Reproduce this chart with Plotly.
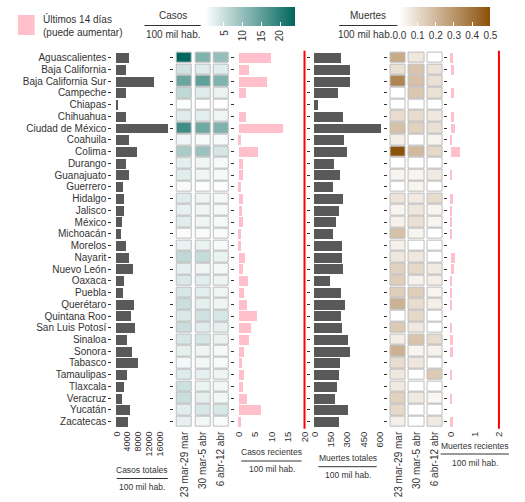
import plotly.graph_objects as go

W, H = 525, 502

states = ["Aguascalientes", "Baja California", "Baja California Sur", "Campeche", "Chiapas",
          "Chihuahua", "Ciudad de México", "Coahuila", "Colima", "Durango", "Guanajuato",
          "Guerrero", "Hidalgo", "Jalisco", "México", "Michoacán", "Morelos", "Nayarit",
          "Nuevo León", "Oaxaca", "Puebla", "Querétaro", "Quintana Roo", "San Luis Potosí",
          "Sinaloa", "Sonora", "Tabasco", "Tamaulipas", "Tlaxcala", "Veracruz", "Yucatán",
          "Zacatecas"]

weeks = ["23 mar-29 mar", "30 mar-5 abr", "6 abr-12 abr"]

casos_totales = [4700, 3600, 13800, 3600, 360, 3600, 18900, 4700, 7600, 3600, 4700, 2500,
                 2900, 2900, 2200, 1800, 3600, 4700, 6200, 2900, 2500, 6500, 5500, 6900,
                 4000, 5800, 8000, 4000, 2900, 2200, 5100, 4400]

casos_sem1 = [24, 4.3, 14, 6, 0.3, 3, 18, 1.4, 8, 2.6, 2.8, 0.6, 3, 2.3, 2.8, 0.5, 2, 6,
              2.5, 3.5, 3.8, 5, 3.5, 5, 4, 2.5, 1.2, 3.2, 4.8, 5, 2.8, 2.3]
casos_sem2 = [12, 3.2, 15, 3, 0, 2.6, 13.5, 0.8, 9.5, 1.4, 1.4, 0.3, 1.6, 1.6, 1.5, 0.6, 2,
              5.5, 1.5, 2.7, 2.7, 2.5, 4.5, 3, 4, 1.5, 1.2, 2.3, 1.8, 2.5, 3.8, 1.2]
casos_sem3 = [10, 2.7, 12, 2, 0, 1.5, 12, 0.8, 4, 0.8, 0.9, 0.3, 0.9, 0.9, 0.9, 0.7, 0.8, 2,
              1, 1.5, 1.5, 1.5, 4, 2.3, 2, 0.9, 0.7, 1.5, 1.2, 1.3, 3.8, 0.5]

casos_recientes = [9.85, 3, 8.7, 2.1, 0, 2.1, 13.4, 0.6, 5.7, 1.2, 1.2, 0.6, 1.2, 0.9, 1.2,
                   0.6, 0.6, 1.8, 1.2, 2.7, 1.5, 2.4, 5.4, 3.6, 3.0, 1.5, 0.9, 1.5, 1.2, 2.4,
                   6.6, 0.6]

muertes_totales = [243, 324, 324, 216, 36, 261, 613, 270, 297, 180, 234, 171, 261, 225, 198,
                   171, 252, 252, 261, 144, 243, 279, 243, 252, 306, 324, 234, 225, 207, 189,
                   306, 225]

muertes_sem1 = [0.24, 0.09, 0.35, 0, 0, 0.1, 0.18, 0.05, 0.5, 0, 0.03, 0, 0.08, 0.03, 0.04,
                0.18, 0.04, 0.07, 0.13, 0.14, 0.14, 0.22, 0, 0.15, 0.05, 0.22, 0.1, 0.065,
                0.06, 0.13, 0.11, 0.045]
muertes_sem2 = [0.065, 0.17, 0.18, 0.16, 0, 0.1, 0.13, 0, 0.2, 0, 0.03, 0.03, 0.06, 0.07,
                0.09, 0.03, 0, 0.065, 0.11, 0.04, 0.14, 0.1, 0.11, 0.065, 0.17, 0.03, 0.07,
                0, 0, 0.06, 0, 0]
muertes_sem3 = [0, 0.08, 0.09, 0.087, 0, 0.065, 0.09, 0.035, 0.11, 0, 0.06, 0, 0.1, 0.03,
                0.03, 0, 0, 0, 0.06, 0.05, 0.03, 0.045, 0, 0, 0.1, 0.04, 0, 0.15, 0, 0.025,
                0, 0.06]

muertes_recientes = [0.08, 0.12, 0, 0.12, 0, 0.12, 0.16, 0.04, 0.37, 0, 0.04, 0, 0.08, 0.04,
                     0.04, 0.04, 0, 0.16, 0.12, 0.04, 0.04, 0.04, 0, 0.04, 0.08, 0.08, 0,
                     0.04, 0, 0.04, 0, 0.08]

casos_limite = 20
muertes_limite = 2

ticks_casos_totales = [0, 4000, 8000, 12000, 16000]
ticks_casos_recientes = [0, 5, 10, 15, 20]
ticks_muertes_totales = [0, 150, 300, 450, 600]
ticks_muertes_recientes = [0, 1, 2]
ticks_cb_casos = [5, 10, 15, 20]
ticks_cb_muertes = [0, 0.1, 0.2, 0.3, 0.4, 0.5]
escala_casos = [0, 24]
escala_muertes = [0, 0.5]

# ---------------------------------------------------------------- styling
DARK = "#595959"
PINK = "#FFC0CB"
TEXT = "#333333"
FONT = "Liberation Sans, Arial, sans-serif"
cs_casos = [[0, "#FFFFFF"], [1, "#01665E"]]
cs_muertes = [[0, "#FFFFFF"], [1, "#8C510A"]]

# colour-bar geometry (pixels)
CB_CASOS = (205, 295)
CB_MUERTES = (401.7, 492.3)
CB_TOP, CB_BOTTOM = 7.3, 26


def px(p):
    return p / W


def py(p):
    return 1 - p / H


ydom = [py(428.75), py(50.65)]
n = len(states)
yrange = [n - 0.4, -0.6]

fig = go.Figure()

# panel 1: casos totales
fig.add_trace(go.Bar(x=casos_totales, y=states, orientation="h", width=0.85,
                     marker=dict(color=DARK, line=dict(width=0)), xaxis="x", yaxis="y"))

# panel 2: heatmap casos (as bordered cells)
cell_w = 0.83
for i, vals in enumerate([casos_sem1, casos_sem2, casos_sem3]):
    fig.add_trace(go.Bar(
        x=[cell_w] * n, base=[(i + 1) - cell_w / 2] * n, y=states, orientation="h", width=0.9,
        marker=dict(color=vals, colorscale=cs_casos, cmin=escala_casos[0], cmax=escala_casos[1],
                    line=dict(color="#BDBDBD", width=1), showscale=(i == 0),
                    colorbar=dict(orientation="h", x=px(sum(CB_CASOS) / 2), xanchor="center",
                                  y=py(CB_TOP), yanchor="top",
                                  len=CB_CASOS[1] - CB_CASOS[0], lenmode="pixels",
                                  thickness=CB_BOTTOM - CB_TOP, thicknessmode="pixels",
                                  outlinewidth=0, ticks="inside", ticklen=4,
                                  tickcolor="white", tickvals=ticks_cb_casos,
                                  showticklabels=False,
                                  tickfont=dict(size=1, color="rgba(0,0,0,0)"),
                                  xpad=0, ypad=0)),
        xaxis="x2", yaxis="y2"))

# panel 3: casos recientes
fig.add_trace(go.Bar(x=casos_recientes, y=states, orientation="h", width=0.85,
                     marker=dict(color=PINK, line=dict(width=0)), xaxis="x3", yaxis="y3"))

# panel 4: muertes totales
fig.add_trace(go.Bar(x=muertes_totales, y=states, orientation="h", width=0.85,
                     marker=dict(color=DARK, line=dict(width=0)), xaxis="x4", yaxis="y4"))

# panel 5: heatmap muertes
for i, vals in enumerate([muertes_sem1, muertes_sem2, muertes_sem3]):
    fig.add_trace(go.Bar(
        x=[cell_w] * n, base=[(i + 1) - cell_w / 2] * n, y=states, orientation="h", width=0.9,
        marker=dict(color=vals, colorscale=cs_muertes, cmin=escala_muertes[0],
                    cmax=escala_muertes[1],
                    line=dict(color="#BDBDBD", width=1), showscale=(i == 0),
                    colorbar=dict(orientation="h", x=px(sum(CB_MUERTES) / 2), xanchor="center",
                                  y=py(CB_TOP), yanchor="top",
                                  len=CB_MUERTES[1] - CB_MUERTES[0], lenmode="pixels",
                                  thickness=CB_BOTTOM - CB_TOP, thicknessmode="pixels",
                                  outlinewidth=0, ticks="inside", ticklen=4,
                                  tickcolor="white", tickvals=ticks_cb_muertes,
                                  tickformat=".1f", tickangle=0,
                                  tickfont=dict(size=10, color=TEXT), xpad=0, ypad=0)),
        xaxis="x5", yaxis="y5"))

# panel 6: muertes recientes
fig.add_trace(go.Bar(x=muertes_recientes, y=states, orientation="h", width=0.85,
                     marker=dict(color=PINK, line=dict(width=0)), xaxis="x6", yaxis="y6"))

# ---------------------------------------------------------------- axes
panels = {
    # name: (left px, right px, range, tickvals, ticktext, fontsize)
    1: (110.5, 168.5, [-1636, 19455], ticks_casos_totales, None, 9),
    2: (172.7, 231.6, [0.4, 3.6], [1, 2, 3], weeks, 10),
    3: (234.5, 308.0, [-1.14, 20.9], ticks_casos_recientes, None, 9.5),
    4: (311.7, 386.0, [-30, 640], ticks_muertes_totales, None, 9.5),
    5: (389.0, 447.7, [0.4, 3.6], [1, 2, 3], weeks, 10),
    6: (450.3, 504.1, [-0.11, 2.1], ticks_muertes_recientes, None, 9.5),
}

layout_axes = {}
for k, (l, r, rng, tv, tt, fs) in panels.items():
    xname = "xaxis" if k == 1 else f"xaxis{k}"
    yname = "yaxis" if k == 1 else f"yaxis{k}"
    xa = dict(domain=[px(l), px(r)], range=rng, anchor="y" if k == 1 else f"y{k}",
              showgrid=False, zeroline=False, showline=False, ticks="",
              tickmode="array", tickvals=tv, tickangle=-90, tickformat="d",
              tickfont=dict(size=fs, color=TEXT))
    if tt is not None:
        xa["ticktext"] = tt
    layout_axes[xname] = xa
    layout_axes[yname] = dict(domain=ydom, anchor="x" if k == 1 else f"x{k}",
                              type="category", categoryorder="array", categoryarray=states,
                              tickmode="array", tickvals=states, ticktext=states,
                              range=yrange, showgrid=False, zeroline=False, showline=False,
                              ticks="outside", ticklen=3, tickwidth=1, tickcolor=TEXT,
                              showticklabels=(k == 1),
                              tickfont=dict(size=10, color=TEXT))

# ---------------------------------------------------------------- decorations
shapes = [
    dict(type="line", xref="x3", yref="y3 domain", x0=casos_limite, x1=casos_limite,
         y0=0, y1=1, line=dict(color="red", width=2)),
    dict(type="line", xref="x6", yref="y6 domain", x0=muertes_limite, x1=muertes_limite,
         y0=0, y1=1, line=dict(color="red", width=2)),
    dict(type="rect", xref="paper", yref="paper", x0=px(15), x1=px(32), y0=py(35), y1=py(15),
         fillcolor=PINK, line=dict(width=0)),
]

annotations = []


def label(text, x, y, size, anchor="center", yanchor="middle", angle=0):
    annotations.append(dict(text=text, x=px(x), y=py(y), xref="paper", yref="paper",
                            xanchor=anchor, yanchor=yanchor, showarrow=False,
                            textangle=angle,
                            font=dict(size=size, color=TEXT, family=FONT)))


def fraction(top, x, ytop, yline, ybot, x0, x1, size, xbot=None):
    label(top, x, ytop, size)
    label("100 mil hab.", x if xbot is None else xbot, ybot, size)
    shapes.append(dict(type="line", xref="paper", yref="paper", x0=px(x0), x1=px(x1),
                       y0=py(yline), y1=py(yline), line=dict(color=TEXT, width=1)))


# rotated tick labels of the cases colour bar, placed on the colour-bar's own scale
for v in ticks_cb_casos:
    frac = (v - escala_casos[0]) / (escala_casos[1] - escala_casos[0])
    label(str(v), CB_CASOS[0] + frac * (CB_CASOS[1] - CB_CASOS[0]), CB_BOTTOM + 1.5, 10,
          anchor="center", yanchor="top", angle=-90)

label("Últimos 14 días", 38, 19, 10, "left")
label("(puede aumentar)", 38, 32.3, 10, "left")
fraction("Casos", 171.7, 16, 25.5, 34.3, 143, 200, 10)
fraction("Muertes", 369, 16, 25.5, 35, 340, 399, 10, xbot=366)

fraction("Casos totales", 140.8, 469.8, 478.5, 487, 115, 166.7, 8.5)
fraction("Casos recientes", 271.7, 452, 461, 469, 241, 302, 8.5)
fraction("Muertes totales", 349, 458, 466.7, 475, 319, 378, 8.5)
fraction("Muertes recientes", 477, 445.7, 454, 462.7, 442.7, 511.7, 8.5)

fig.update_layout(
    width=W, height=H, margin=dict(l=0, r=0, t=0, b=0, pad=0),
    paper_bgcolor="white", plot_bgcolor="white",
    barmode="overlay", showlegend=False, bargap=0,
    font=dict(family=FONT, size=10, color=TEXT),
    shapes=shapes, annotations=annotations,
    **layout_axes,
)

fig.write_html("out.html", config={"displayModeBar": False},
               post_script="document.body.style.margin='0';")
